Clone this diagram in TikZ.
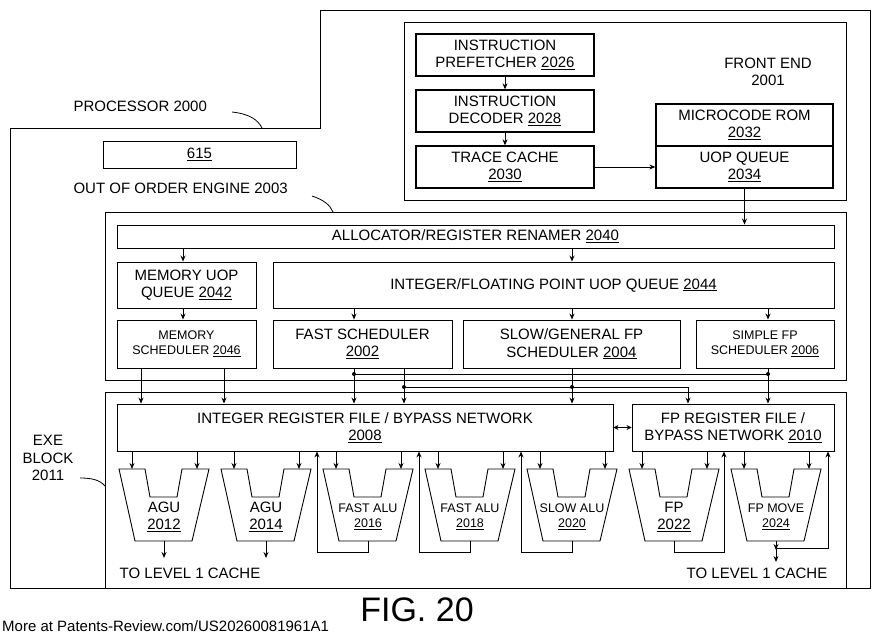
\documentclass[tikz,border=0pt]{standalone}
\usepackage{fontspec}
\setmainfont{Liberation Sans}
\usetikzlibrary{arrows.meta}
\begin{document}
\begin{tikzpicture}[x=1pt,y=-1pt,
  bx/.style={draw,line width=1.3pt,inner sep=0pt},
  thin/.style={draw,line width=0.9pt},
  ar/.style={line width=0.9pt,-{Stealth[length=6pt,width=5pt]}},
  lbl/.style={font=\fontsize{15}{17.5}\selectfont,align=center},
  sl/.style={font=\fontsize{12.5}{15}\selectfont,align=center},
  dot/.style={circle,fill,inner sep=0pt,minimum size=4pt}]
\useasboundingbox (0,0) rectangle (880,642);
% processor outline
\draw[line width=0.9pt] (10,128) -- (320,128) -- (320,10) -- (870,10) -- (870,588) -- (10,588) -- cycle;
\node[lbl,anchor=west] (plab) at (70,106) {PROCESSOR 2000};
\draw[line width=0.8pt] (232,112) .. controls (250,114) and (258,120) .. (262,128);
% front end
\draw[thin] (404,22) rectangle (846,200);
\node[lbl] (felab) at (768,72) {FRONT END\\2001};
\node[bx,minimum width=178pt,minimum height=42pt,lbl] (pf) at (505,55) {INSTRUCTION\\PREFETCHER \underline{2026}};
\node[bx,minimum width=178pt,minimum height=42pt,lbl] (dec) at (505,111) {INSTRUCTION\\DECODER \underline{2028}};
\node[bx,minimum width=178pt,minimum height=42pt,lbl] (tc) at (505,167) {TRACE CACHE\\\underline{2030}};
\node[bx,minimum width=177pt,minimum height=42pt,lbl] (rom) at (744.5,125) {MICROCODE ROM\\\underline{2032}};
\node[bx,minimum width=177pt,minimum height=42pt,lbl] (uq) at (744.5,167) {UOP QUEUE\\\underline{2034}};
\draw[ar] (pf) -- (dec);
\draw[ar] (dec) -- (tc);
\draw[ar] (tc) -- (uq);
% 615
\node[thin,minimum width=193pt,minimum height=27pt,lbl,inner sep=0pt] (b615) at (199.5,154.5) {\underline{615}};
% OOO
\node[lbl,anchor=west] (olab) at (70,188) {OUT OF ORDER ENGINE 2003};
\draw[line width=0.8pt] (312,196) .. controls (324,200) and (330,205) .. (333,212);
\draw[thin] (105,212) rectangle (846,380);
\node[thin,minimum width=717pt,minimum height=23pt,lbl,inner sep=0pt] (alloc) at (475.5,236.5) {ALLOCATOR/REGISTER RENAMER \underline{2040}};
\draw[ar] (uq.south) -- (alloc.north -| uq.south);
\node[thin,minimum width=139pt,minimum height=46pt,lbl,inner sep=0pt] (mq) at (186.5,285) {MEMORY UOP\\QUEUE \underline{2042}};
\node[thin,minimum width=561pt,minimum height=46pt,lbl,inner sep=0pt] (iq) at (553.5,285) {INTEGER/FLOATING POINT UOP QUEUE \underline{2044}};
\node[thin,minimum width=139pt,minimum height=48pt,sl,inner sep=0pt] (ms) at (186.5,344) {MEMORY\\SCHEDULER \underline{2046}};
\node[thin,minimum width=179pt,minimum height=48pt,lbl,inner sep=0pt] (fs) at (362.5,344) {FAST SCHEDULER\\\underline{2002}};
\node[thin,minimum width=217pt,minimum height=48pt,lbl,inner sep=0pt] (ss) at (571.5,344) {SLOW/GENERAL FP\\SCHEDULER \underline{2004}};
\node[thin,minimum width=138pt,minimum height=48pt,sl,inner sep=0pt] (sf) at (765,344) {SIMPLE FP\\SCHEDULER \underline{2006}};
\draw[ar] (alloc.south -| 183,0) -- (mq.north -| 183,0);
\draw[ar] (alloc.south -| 572,0) -- (iq.north -| 572,0);
\draw[ar] (mq.south -| 183,0) -- (ms.north -| 183,0);
\draw[ar] (iq.south -| 354,0) -- (fs.north -| 354,0);
\draw[ar] (iq.south -| 572,0) -- (ss.north -| 572,0);
\draw[ar] (iq.south -| 768,0) -- (sf.north -| 768,0);
% EXE
\node[lbl] (elab) at (48,458) {EXE\\BLOCK\\2011};
\draw[line width=0.8pt] (80,478) .. controls (92,478) and (100,480) .. (105,486);
\draw[thin] (105,392) rectangle (846,588);
\node[thin,minimum width=496pt,minimum height=47pt,lbl,inner sep=0pt] (irf) at (365,427.5) {INTEGER REGISTER FILE / BYPASS NETWORK\\\underline{2008}};
\node[thin,minimum width=202pt,minimum height=47pt,lbl,inner sep=0pt] (frf) at (733,427.5) {FP REGISTER FILE /\\BYPASS NETWORK \underline{2010}};
\draw[line width=0.9pt,{Stealth[length=5pt,width=5pt]}-{Stealth[length=5pt,width=5pt]}] (irf.east) -- (frf.west);
% scheduler buses
\draw[ar] (ms.south -| 141,0) -- (irf.north -| 141,0);
\draw[ar] (ms.south -| 224,0) -- (irf.north -| 224,0);
\draw[ar] (fs.south -| 354,0) -- (irf.north -| 354,0);
\draw[ar] (fs.south -| 404,0) -- (irf.north -| 404,0);
\draw[ar] (ss.south -| 572,0) -- (irf.north -| 572,0);
\draw[ar] (sf.south -| 768,0) -- (frf.north -| 768,0);
\coordinate (b1) at (354,374);
\coordinate (b2) at (768,374);
\coordinate (c1) at (404,387);
\coordinate (c2) at (688,387);
\draw[line width=0.9pt] (b1) -- (b2);
\draw[line width=0.9pt] (c1) -- (c2);
\draw[ar] (c2) -- (frf.north -| c2);
\node[dot] at (b1) {}; \node[dot] at (b2) {};
\node[dot] at (c1) {}; \node[dot] at (572,387) {};
% execution units
\foreach \L/\t/\n/\f [count=\i] in {119/AGU/2012/lbl,221/AGU/2014/lbl,323/FAST ALU/2016/sl,425/FAST ALU/2018/sl,527/SLOW ALU/2020/sl,629/FP/2022/lbl,731/FP MOVE/2024/sl}{
  \draw[line width=0.9pt] (\L,469) -- (\L+26,469) -- (\L+31,497) -- (\L+58,497) -- (\L+63,469) -- (\L+90,469) -- (\L+73,541) -- (\L+16,541) -- cycle;
  \node[\f] (u\i) at (\L+45,517) {\t\\\underline{\n}};
  \coordinate (o\i) at (\L+45,541);
  \ifnum\i<6
    \draw[ar] (irf.south -| \L+13,0) -- (\L+13,469);
    \draw[ar] (irf.south -| \L+78,0) -- (\L+78,469);
  \else
    \draw[ar] (frf.south -| \L+13,0) -- (\L+13,469);
    \draw[ar] (frf.south -| \L+78,0) -- (\L+78,469);
  \fi
}
\coordinate (cache1) at (164,558);
\coordinate (cache2) at (266,558);
\draw[ar] (o1) -- (cache1);
\draw[ar] (o2) -- (cache2);
\draw[ar] (o3) -- (368,552) -- (317,552) -- (irf.south -| 317,0);
\draw[ar] (o4) -- (470,552) -- (419,552) -- (irf.south -| 419,0);
\draw[ar] (o5) -- (572,552) -- (521,552) -- (irf.south -| 521,0);
\draw[ar] (o6) -- (674,552) -- (724,552) -- (frf.south -| 724,0);
\draw[ar] (o7) -- (776,562);
\draw[line width=0.9pt,-{Stealth[length=6pt,width=5pt]}] (776,548) -- (776,550);
\draw[ar] (776,548) -- (828,548) -- (frf.south -| 828,0);
\node[lbl] (l1) at (190,573) {TO LEVEL 1 CACHE};
\node[lbl] (l2) at (757,573) {TO LEVEL 1 CACHE};
\node[font=\fontsize{34}{36}\selectfont] (fig) at (417,610) {FIG. 20};
\node[font=\fontsize{15}{17}\selectfont,anchor=west,inner sep=0pt] (more) at (2,626) {More at Patents-Review.com/US20260081961A1};
\end{tikzpicture}
\end{document}
